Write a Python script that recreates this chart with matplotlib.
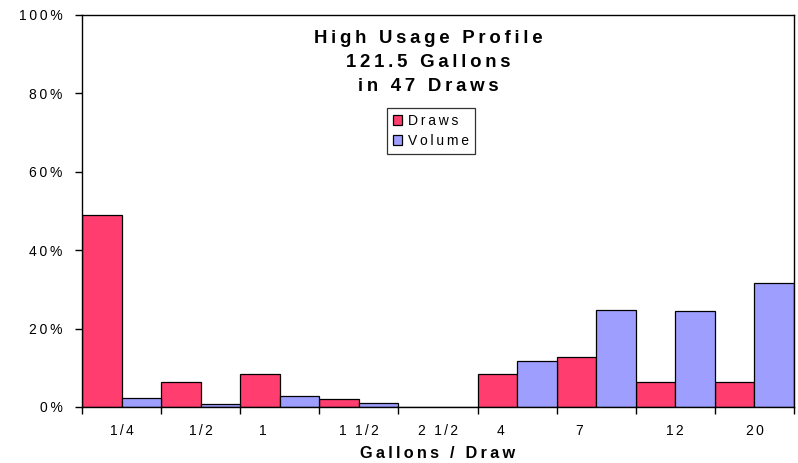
import numpy as np
import matplotlib.pyplot as plt
import matplotlib.transforms as mtransforms

# Gallons per draw categories and shares (percent)
categories = ["1/4", "1/2", "1", "1 1/2", "2 1/2", "4", "7", "12", "20"]
draws = [48.9, 6.4, 8.5, 2.1, 0.0, 8.5, 12.8, 6.4, 6.4]
volume = [2.4, 0.8, 2.8, 1.0, 0.0, 11.7, 24.8, 24.4, 31.6]

draw_color = "#FF3D6E"
vol_color = "#9E9EFF"
FONT = ["Liberation Sans", "DejaVu Sans"]


def spaced(s, gap="\u2009"):
    # wide tracking like the original chart
    return gap.join(s)


plt.rcParams["font.family"] = FONT

fig = plt.figure(figsize=(7.98, 4.63), dpi=100)
ax = fig.add_axes([82 / 798, 1 - 407 / 463, 712 / 798, 392 / 463])

x = np.arange(len(categories))
w = 0.5
ax.bar(x - w / 2, draws, w, color=draw_color, edgecolor="black", linewidth=0.9,
       label=spaced("Draws"))
ax.bar(x + w / 2, volume, w, color=vol_color, edgecolor="black", linewidth=0.9,
       label=spaced("Volume"))

ax.set_xlim(-0.5, len(categories) - 0.5)
ax.set_ylim(0, 100)

# y axis
yt = np.arange(0, 101, 20)
ax.set_yticks(yt)
ax.set_yticklabels([spaced(f"{v}%") for v in yt], fontsize=10)
ax.tick_params(axis="y", direction="out", length=5, width=1, pad=9)

# x axis: ticks at category boundaries, labels at centers
ax.set_xticks(np.arange(-0.5, len(categories), 1.0))
ax.set_xticklabels([])
ax.tick_params(axis="x", which="major", direction="out", length=5, width=1)
ax.set_xticks(x, minor=True)
ax.set_xticklabels([spaced(c, "\u2006") for c in categories], minor=True, fontsize=10)
ax.tick_params(axis="x", which="minor", length=0, pad=12)
for lab, c in zip(ax.get_xticklabels(minor=True), categories):
    if c in ("1", "4", "7"):
        lab.set_transform(lab.get_transform() +
                          mtransforms.ScaledTranslation(-17 / 100, 0, fig.dpi_scale_trans))

for s in ax.spines.values():
    s.set_linewidth(1)

ax.set_xlabel(spaced("Gallons / Draw"), fontsize=11.7, fontweight="bold", labelpad=6)

ax.text(0.486, 0.879, spaced("High Usage Profile") + "\n" + spaced("121.5 Gallons") + "\n"
        + spaced("in 47 Draws"), transform=ax.transAxes, ha="center", va="center",
        fontsize=13.4, fontweight="bold", linespacing=1.55)

leg = ax.legend(loc="upper center", bbox_to_anchor=(0.49, 0.762), fontsize=10,
                frameon=True, fancybox=False, edgecolor="black", handlelength=0.7,
                handleheight=0.7, handletextpad=0.4, borderpad=0.4, labelspacing=0.45,
                borderaxespad=0)
leg.get_frame().set_linewidth(0.9)

fig.savefig("out.png", dpi=100)
